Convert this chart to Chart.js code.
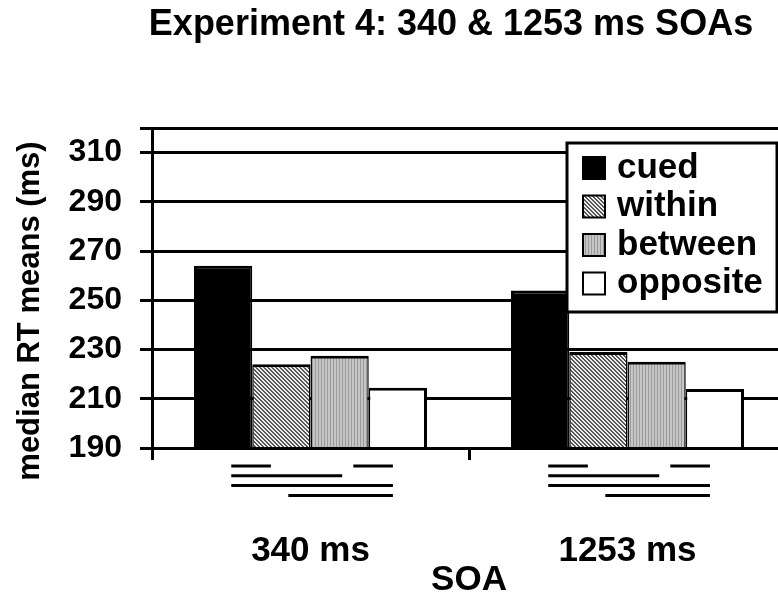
<!DOCTYPE html>
<html><head><meta charset="utf-8">
<script src="https://cdn.jsdelivr.net/npm/chart.js@4.4.0/dist/chart.umd.min.js"></script>
<style>
html,body{margin:0;padding:0;background:#fff;overflow:hidden;width:778px;height:604px;}
#wrap{width:902px;height:604px;position:relative;}
canvas{display:block;}
</style></head><body>
<div id="wrap"><canvas id="c" width="902" height="604"></canvas></div>
<script>
// ---- data ----
const categories = ['340 ms', '1253 ms'];
const seriesNames = ['cued', 'within', 'between', 'opposite'];
const cued = [264, 254];
const within = [224, 229];
const between = [227.5, 225];
const opposite = [214.5, 214];
const yTicks = [190, 210, 230, 250, 270, 290, 310];
const yMin = 190, yMax = 320;
// significance bars under each group: [row, start, end] as fraction of category width from the group centre
const sigLines = [
  [0, -0.25, -0.125], [0, 0.135, 0.26],
  [1, -0.25, 0.10],
  [2, -0.25, 0.26],
  [3, -0.07, 0.26]
];

const FONT = '"Liberation Sans", Arial, sans-serif';
const canvas = document.getElementById('c');
const ctx0 = canvas.getContext('2d');

function diagPattern() {
  const p = document.createElement('canvas'); p.width = 4; p.height = 4;
  const g = p.getContext('2d');
  g.fillStyle = '#eeeeee'; g.fillRect(0, 0, 4, 4);
  g.fillStyle = '#555555';
  for (let i = 0; i < 4; i++) { g.fillRect(i, i, 1, 1); g.fillRect((i + 1) % 4, i, 1, 1); }
  return ctx0.createPattern(p, 'repeat');
}
function vertPattern() {
  const p = document.createElement('canvas'); p.width = 3; p.height = 3;
  const g = p.getContext('2d');
  g.fillStyle = '#c6c6c6'; g.fillRect(0, 0, 3, 3);
  g.fillStyle = '#9a9a9a'; g.fillRect(0, 0, 1, 3);
  return ctx0.createPattern(p, 'repeat');
}
const fills = ['#000000', diagPattern(), vertPattern(), '#ffffff'];
const seriesValues = [cued, within, between, opposite];
const borders = [
  {top: 3, left: 3, right: 1.5, bottom: 0},
  {top: 3, left: 1.5, right: 1.5, bottom: 0},
  {top: 3, left: 1.5, right: 1.5, bottom: 0},
  {top: 3, left: 1.5, right: 3, bottom: 0}
];

const boxLegend = {
  id: 'boxLegend',
  afterDatasetsDraw(chart, args, o) {
    const {ctx, chartArea: a} = chart;
    const x = a.left + o.dx, y = a.top + o.dy;
    ctx.save();
    ctx.fillStyle = '#fff'; ctx.fillRect(x, y, o.w, o.h);
    ctx.lineWidth = 3; ctx.strokeStyle = '#000'; ctx.strokeRect(x, y, o.w, o.h);
    chart.data.datasets.forEach((ds, i) => {
      const cy = y + o.first + i * o.gap;
      ctx.fillStyle = ds.backgroundColor;
      ctx.fillRect(x + o.sx, cy - o.sw / 2, o.sw, o.sw);
      ctx.lineWidth = 2; ctx.strokeStyle = '#000';
      ctx.strokeRect(x + o.sx, cy - o.sw / 2, o.sw, o.sw);
      ctx.fillStyle = '#000';
      ctx.font = 'bold ' + o.size + 'px ' + FONT;
      ctx.textBaseline = 'middle'; ctx.textAlign = 'left';
      ctx.fillText(ds.label, x + o.tx, cy);
    });
    ctx.restore();
  }
};

const sigPlugin = {
  id: 'sigPlugin',
  afterDraw(chart, args, o) {
    const {ctx} = chart;
    const xs = chart.scales.x, ys = chart.scales.y;
    const catW = xs.getPixelForValue(1) - xs.getPixelForValue(0);
    const base = ys.getPixelForValue(yMin);
    ctx.save();
    ctx.strokeStyle = '#000'; ctx.lineWidth = 3; ctx.lineCap = 'butt';
    categories.forEach((c, ci) => {
      const cx = xs.getPixelForValue(ci);
      sigLines.forEach(([row, s, e]) => {
        const y = base + o.first + row * o.gap;
        ctx.beginPath();
        ctx.moveTo(cx + s * catW, y); ctx.lineTo(cx + e * catW, y);
        ctx.stroke();
      });
    });
    ctx.restore();
  }
};

const yTitle = {
  id: 'yTitle',
  afterDraw(chart, args, o) {
    const {ctx, chartArea: a} = chart;
    ctx.save();
    ctx.translate(o.x, (a.top + a.bottom) / 2 + o.dy);
    ctx.rotate(-Math.PI / 2);
    ctx.font = 'bold ' + o.size + 'px ' + FONT;
    ctx.fillStyle = '#000'; ctx.textAlign = 'center'; ctx.textBaseline = 'middle';
    ctx.fillText(o.text, 0, 0);
    ctx.restore();
  }
};

new Chart(canvas, {
  type: 'bar',
  data: {
    labels: categories,
    datasets: seriesNames.map((n, i) => ({
      label: n,
      data: seriesValues[i],
      backgroundColor: fills[i],
      borderColor: '#000',
      borderWidth: borders[i],
      borderSkipped: false,
      inflateAmount: 0,
      categoryPercentage: 0.735,
      barPercentage: 1.0
    }))
  },
  options: {
    responsive: false,
    animation: false,
    layout: {padding: 0},
    plugins: {
      legend: {display: false},
      tooltip: {enabled: false},
      title: {
        display: true,
        text: 'Experiment 4: 340 & 1253 ms SOAs',
        color: '#000',
        font: {family: FONT, size: 36, weight: 'bold', lineHeight: 1.2},
        padding: {top: 3, bottom: 81.8}
      },
      boxLegend: {dx: 415, dy: 15, w: 210, h: 169, first: 25, gap: 38.5, sx: 16, sw: 22, tx: 50, size: 35},
      sigPlugin: {first: 18, gap: 9.8},
      yTitle: {text: 'median RT means (ms)', x: 30, dy: 23, size: 31}
    },
    scales: {
      x: {
        type: 'category',
        grid: {display: true, drawOnChartArea: false, drawTicks: true, offset: true, tickLength: 12, color: '#000', lineWidth: 3},
        border: {display: true, color: '#000', width: 3, z: 1},
        ticks: {color: '#000', padding: 70, font: {family: FONT, size: 35, weight: 'bold'}},
        title: {display: true, text: 'SOA', color: '#000', font: {family: FONT, size: 35, weight: 'bold', lineHeight: 1.2}, padding: {top: 0, bottom: 3}},
        afterFit: s => { s.height = 156; }
      },
      y: {
        type: 'linear',
        min: yMin, max: yMax,
        grid: {color: '#000', lineWidth: 3, tickLength: 12, drawTicks: true},
        border: {display: true, color: '#000', width: 3},
        ticks: {
          color: '#000', padding: 18,
          font: {family: FONT, size: 32, weight: 'bold'},
          callback: v => (v === yMax ? '' : v)
        },
        afterBuildTicks: s => { s.ticks = yTicks.concat([yMax]).map(v => ({value: v})); },
        afterFit: s => { s.width = 152; }
      },
      yR: {
        type: 'linear', position: 'right', display: true,
        grid: {display: false}, border: {display: false}, ticks: {display: false},
        afterFit: s => { s.width = 116; }
      }
    }
  },
  plugins: [boxLegend, sigPlugin, yTitle]
});
</script>
</body></html>
